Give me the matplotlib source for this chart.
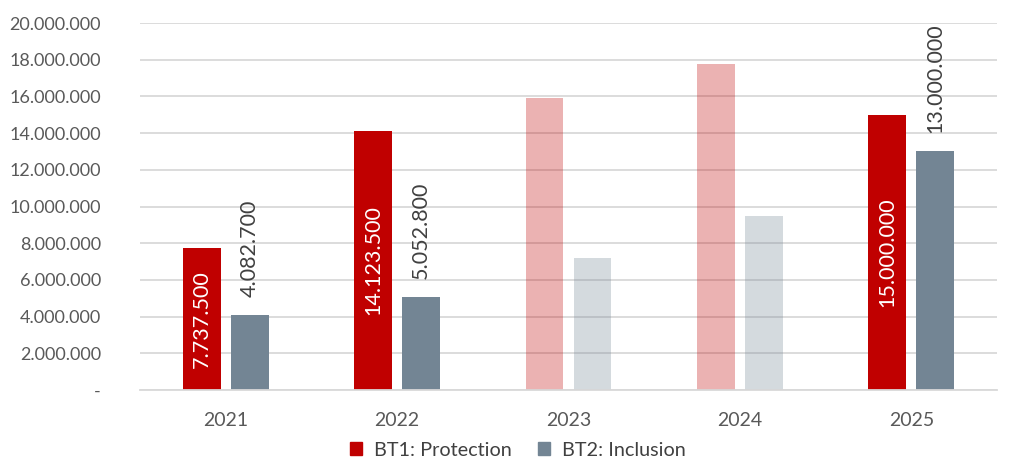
import matplotlib
matplotlib.use("Agg")
import matplotlib.pyplot as plt
import numpy as np
from matplotlib.ticker import FuncFormatter
from matplotlib.patches import Patch

years = ["2021", "2022", "2023", "2024", "2025"]
bt1 = [7737500, 14123500, 15900000, 17750000, 15000000]
bt2 = [4082700, 5052800, 7200000, 9480000, 13000000]
faded = [False, False, True, True, False]
series_names = ["BT1: Protection", "BT2: Inclusion"]

RED = "#C00000"
GRAY = "#738594"
FONT = ["Lato", "DejaVu Sans"]
plt.rcParams["font.family"] = FONT

fig = plt.figure(figsize=(10.21, 4.61), dpi=100)
ax = fig.add_axes([140/1021, 1-390/461, (997-140)/1021, (390-23)/461])

x = np.arange(len(years))
w = 0.22
off = 0.14

def fmt(v):
    return f"{int(round(v)):,}".replace(",", ".")

for i in range(len(years)):
    a = 0.3 if faded[i] else 1.0
    ax.bar(x[i]-off, bt1[i], w, color=RED, alpha=a, zorder=2)
    ax.bar(x[i]+off, bt2[i], w, color=GRAY, alpha=a, zorder=2)
    if not faded[i]:
        ax.text(x[i]-off, bt1[i]/2, fmt(bt1[i]), rotation=90, ha="center", va="center",
                color="white", fontsize=15.5, zorder=3)
        ax.text(x[i]+off, bt2[i] + 1000000, fmt(bt2[i]), rotation=90, ha="center", va="bottom",
                color="#404040", fontsize=15.5, zorder=3)

ax.set_xlim(-0.5, len(years)-0.5)
ax.set_ylim(0, 20000000)
ax.set_yticks(np.arange(0, 20000001, 2000000))
ax.yaxis.set_major_formatter(FuncFormatter(lambda v, p: "-" if v == 0 else fmt(v)))
ax.set_xticks(x)
ax.set_xticklabels(years)
ax.grid(axis="y", color="#D9D9D9", linewidth=1.3, zorder=0)
ax.set_axisbelow(True)
for s in ["top", "right", "left"]:
    ax.spines[s].set_visible(False)
ax.spines["bottom"].set_color("#D9D9D9")
ax.spines["bottom"].set_linewidth(1.3)
ax.tick_params(axis="y", length=0, labelsize=13, labelcolor="#595959", pad=28)
ax.tick_params(axis="x", length=0, labelsize=14, labelcolor="#595959", pad=16)

handles = [Patch(color=RED), Patch(color=GRAY)]
fig.legend(handles, series_names, loc="center", bbox_to_anchor=(518/1021, 1-450/461),
           ncol=2, frameon=False, fontsize=14.3, handlelength=0.6, handleheight=0.6,
           columnspacing=1.35, handletextpad=0.6, labelcolor="#404040")

fig.savefig("out.png", dpi=100)
